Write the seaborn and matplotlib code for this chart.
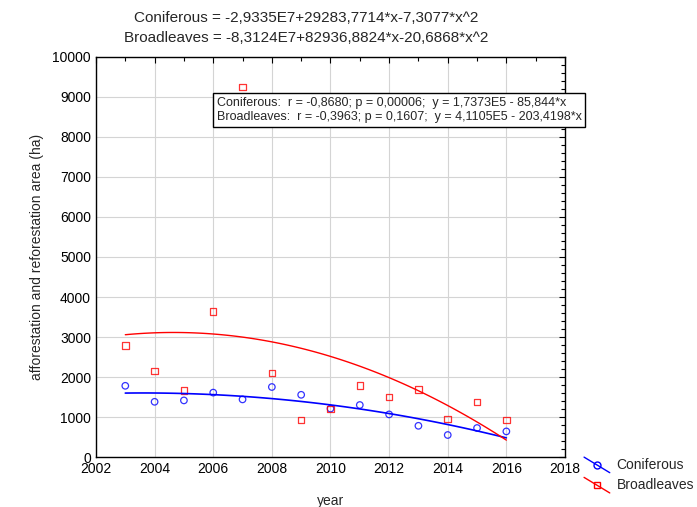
import numpy as np
import pandas as pd
import matplotlib
matplotlib.use("Agg")
import matplotlib.pyplot as plt
import seaborn as sns
from matplotlib.lines import Line2D
from matplotlib.legend_handler import HandlerLine2D
from matplotlib.ticker import MultipleLocator

# --- data ---
years = [2003, 2004, 2005, 2006, 2007, 2008, 2009, 2010, 2011, 2012, 2013, 2014, 2015, 2016]
coniferous = [1780, 1380, 1415, 1610, 1440, 1750, 1555, 1210, 1300, 1065, 780, 550, 725, 640]
broadleaves = [2790, 2150, 1665, 3640, 9250, 2095, 925, 1205, 1790, 1495, 1690, 950, 1380, 925]

title_lines = ["Coniferous = -2,9335E7+29283,7714*x-7,3077*x^2",
               "Broadleaves = -8,3124E7+82936,8824*x-20,6868*x^2"]
stats_lines = ["Coniferous:  r = -0,8680; p = 0,00006;  y = 1,7373E5 - 85,844*x",
               "Broadleaves:  r = -0,3963; p = 0,1607;  y = 4,1105E5 - 203,4198*x"]

df = pd.DataFrame({"year": years, "Coniferous": coniferous, "Broadleaves": broadleaves})

sns.set_style("white")
plt.rcParams['font.family'] = ['Liberation Sans', 'DejaVu Sans']

fig = plt.figure(figsize=(6.97, 5.07), dpi=100)
ax = fig.add_axes([0.1377, 0.0986, 0.6729, 0.789])

# quadratic fits + points
sns.regplot(data=df, x="year", y="Coniferous", order=2, ci=None, ax=ax,
            marker="o", color="blue",
            scatter_kws=dict(facecolors="none", edgecolors="blue", s=22, linewidths=0.9),
            line_kws=dict(lw=1.2))
sns.regplot(data=df, x="year", y="Broadleaves", order=2, ci=None, ax=ax,
            marker="s", color="red",
            scatter_kws=dict(facecolors="none", edgecolors="red", s=22, linewidths=0.9),
            line_kws=dict(lw=1.0))

ax.set_xlim(2002, 2018)
ax.set_ylim(0, 10000)
ax.xaxis.set_major_locator(MultipleLocator(2))
ax.xaxis.set_minor_locator(MultipleLocator(1))
ax.yaxis.set_major_locator(MultipleLocator(1000))
ax.yaxis.set_minor_locator(MultipleLocator(200))
ax.tick_params(which="both", direction="in", top=True, right=True, labelsize=10, colors="black")
ax.tick_params(which="major", length=4, width=0.8)
ax.tick_params(which="minor", length=3, width=0.8)
ax.grid(True, which="major", color="#d4d4d4", lw=0.8)
for s in ax.spines.values():
    s.set_color("black")
    s.set_linewidth(1.0)

ax.set_xlabel("year", fontsize=10, labelpad=13)
ax.set_ylabel("afforestation and reforestation area (ha)", fontsize=10, labelpad=6)

fig.text(0.44, 0.978, "\n".join(title_lines), ha="center", va="top", fontsize=11, linespacing=1.5)

ax.text(0.257, 0.9, "\n".join(stats_lines), transform=ax.transAxes, ha="left", va="top",
        fontsize=9, linespacing=1.25, clip_on=False, zorder=5,
        bbox=dict(boxstyle="square,pad=0.3", fc="white", ec="black", lw=1.0))


class DiagHandler(HandlerLine2D):
    # legend handle drawn as a slanted line with the marker in its middle
    def create_artists(self, legend, orig_handle, xdescent, ydescent, width, height, fontsize, trans):
        arts = super().create_artists(legend, orig_handle, xdescent, ydescent, width, height, fontsize, trans)
        y0, y1 = height * 1.2, -height * 0.4
        xs = [-xdescent, width / 2 - xdescent, width - xdescent]
        ys = [y0, (y0 + y1) / 2, y1]
        for a in arts:
            a.set_data(xs, ys)
            a.set_markevery([1])
        return arts


handles = [Line2D([], [], color="blue", marker="o", mfc="none", mec="blue", ms=5, lw=1.0),
           Line2D([], [], color="red", marker="s", mfc="none", mec="red", ms=5, lw=1.0)]
fig.legend(handles, ["Coniferous", "Broadleaves"], loc="upper left",
           bbox_to_anchor=(0.83, 0.108), frameon=False, fontsize=10, numpoints=1,
           handlelength=1.85, handletextpad=0.5, labelspacing=0.45, borderaxespad=0,
           handler_map={Line2D: DiagHandler()})

fig.savefig("out.png", dpi=100)
